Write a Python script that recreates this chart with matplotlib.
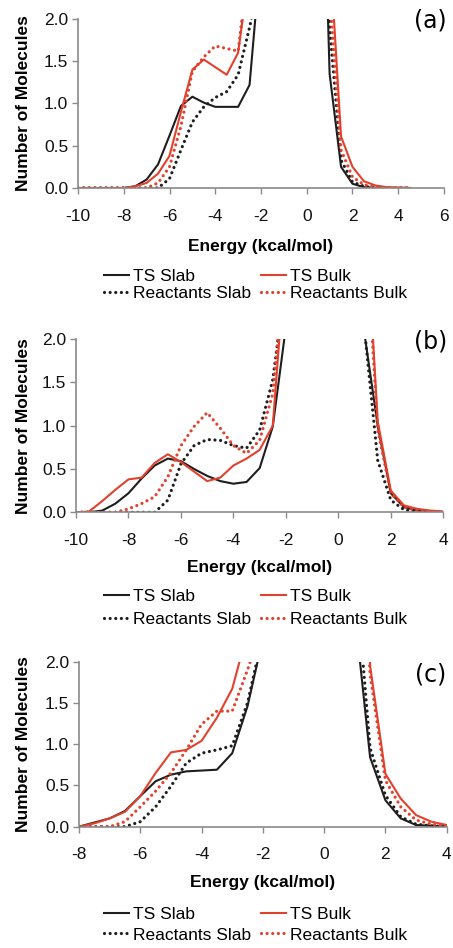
import numpy as np
import matplotlib
matplotlib.use("Agg")
import matplotlib.pyplot as plt

nan = np.nan

# energies (kcal/mol); nan separates the reactant-side and product-side branches
A_ENERGY = [-10, -9.5, -9, -8.5, -8, -7.5, -7, -6.5, -6, -5.5, -5, -4.5, -4, -3.5, -3, -2.5, -2,
            nan, 0.5, 1, 1.5, 2, 2.5, 3, 3.5, 4, 4.5]
A_TS_SLAB = [0, 0, 0, 0, 0, 0.02, 0.10, 0.28, 0.62, 0.97, 1.08, 1.01, 0.96, 0.96, 0.96, 1.22, 2.78,
             nan, 5.99, 1.35, 0.25, 0.05, 0.01, 0, 0, 0, 0]
A_TS_BULK = [0, 0, 0, 0, 0, 0.02, 0.06, 0.17, 0.38, 0.90, 1.40, 1.52, 1.43, 1.34, 1.60, 2.60, 4.0,
             nan, 6.0, 2.85, 0.61, 0.25, 0.08, 0.03, 0.01, 0.005, 0]
A_REACT_SLAB = [0, 0, 0, 0, 0, 0, 0, 0, 0.11, 0.45, 0.78, 0.96, 1.07, 1.14, 1.34, 1.90, 2.53,
                nan, 6.9, 1.9, 0.33, 0.07, 0.02, 0, 0, 0, 0]
A_REACT_BULK = [0, 0, 0, 0, 0, 0, 0, 0.06, 0.25, 0.73, 1.38, 1.55, 1.68, 1.65, 1.62, 2.74, 4.0,
                nan, 5.0, 2.3, 0.45, 0.13, 0.04, 0.01, 0, 0, 0]

B_ENERGY = [-10, -9.5, -9, -8.5, -8, -7.5, -7, -6.5, -6, -5.5, -5, -4.5, -4, -3.5, -3, -2.5, -2,
            nan, 0.5, 1, 1.5, 2, 2.5, 3, 3.5, 4]
B_TS_SLAB = [0, 0, 0.02, 0.10, 0.22, 0.39, 0.54, 0.62, 0.59, 0.50, 0.42, 0.36, 0.33, 0.35, 0.51, 0.99, 2.14,
             nan, 5.0, 2.05, 1.0, 0.22, 0.06, 0.02, 0.01, 0]
B_TS_BULK = [0, 0.01, 0.13, 0.26, 0.38, 0.40, 0.57, 0.67, 0.58, 0.47, 0.36, 0.40, 0.54, 0.62, 0.72, 1.0, 3.0,
             nan, 8.0, 3.69, 1.05, 0.25, 0.08, 0.04, 0.02, 0.01]
B_REACT_SLAB = [0, 0, 0, 0, 0, 0, 0, 0.14, 0.56, 0.77, 0.84, 0.83, 0.77, 0.74, 0.95, 1.53, 2.7,
                nan, 5.0, 2.1, 0.6, 0.14, 0.03, 0, 0, 0]
B_REACT_BULK = [0, 0, 0, 0, 0.04, 0.10, 0.18, 0.41, 0.77, 0.99, 1.15, 0.97, 0.77, 0.68, 0.83, 1.37, 2.95,
                nan, 8.0, 3.5, 0.95, 0.22, 0.06, 0.02, 0.01, 0]

C_ENERGY = [-8, -7.5, -7, -6.5, -6, -5.5, -5, -4.5, -4, -3.5, -3, -2.5, -2,
            nan, 0.5, 1, 1.5, 2, 2.5, 3, 3.5, 4]
C_TS_SLAB = [0, 0.05, 0.10, 0.19, 0.37, 0.55, 0.63, 0.67, 0.68, 0.69, 0.89, 1.46, 2.28,
             nan, 6.0, 2.6, 0.84, 0.32, 0.10, 0.02, 0.01, 0]
C_TS_BULK = [0, 0.04, 0.10, 0.18, 0.37, 0.65, 0.90, 0.93, 1.04, 1.32, 1.67, 2.36, 4.0,
             nan, 8.0, 6.0, 1.95, 0.64, 0.34, 0.14, 0.06, 0.02]
C_REACT_SLAB = [0, 0, 0, 0, 0.06, 0.24, 0.49, 0.77, 0.89, 0.93, 0.98, 1.50, 2.33,
                nan, 8.0, 3.2, 0.95, 0.38, 0.12, 0.03, 0.01, 0]
C_REACT_BULK = [0, 0, 0, 0.06, 0.24, 0.43, 0.65, 0.93, 1.24, 1.40, 1.40, 1.90, 2.46,
                nan, 8.0, 5.0, 1.85, 0.56, 0.24, 0.08, 0.03, 0.01]

SERIES_LABELS = ["TS Slab", "Reactants Slab", "TS Bulk", "Reactants Bulk"]
Y_TICKS = [0.0, 0.5, 1.0, 1.5, 2.0]

BLACK = "#1e1e1e"
RED = "#e2412d"
GRAY = "#8a8a8a"
DOT = (0, (0.01, 1.75))

plt.rcParams["font.family"] = ["Liberation Sans", "DejaVu Sans"]
plt.rcParams["axes.unicode_minus"] = False

fig = plt.figure(figsize=(4.53, 9.48), dpi=100)


def draw_panel(rect, energy, ts_slab, react_slab, ts_bulk, react_bulk, xlim, tag,
               tag_pos, xlabel_y, ylabel_x, legend_top, legend_spacing):
    ax = fig.add_axes(rect)
    ax.plot(energy, ts_slab, color=BLACK, lw=1.5, label=SERIES_LABELS[0])
    ax.plot(energy, react_slab, color=BLACK, lw=2.3, ls=DOT, dash_capstyle="round",
            label=SERIES_LABELS[1])
    ax.plot(energy, ts_bulk, color=RED, lw=1.5, label=SERIES_LABELS[2])
    ax.plot(energy, react_bulk, color=RED, lw=2.3, ls=DOT, dash_capstyle="round",
            label=SERIES_LABELS[3])

    ax.set_xlim(*xlim)
    ax.set_ylim(0, 2.0)
    ax.set_xticks(np.arange(xlim[0], xlim[1] + 1, 2))
    ax.set_yticks(Y_TICKS)
    ax.yaxis.set_major_formatter(matplotlib.ticker.FormatStrFormatter("%.1f"))
    for side in ("top", "right"):
        ax.spines[side].set_visible(False)
    for side in ("left", "bottom"):
        ax.spines[side].set_color(GRAY)
        ax.spines[side].set_linewidth(1.2)
    ax.tick_params(axis="both", direction="out", length=4, width=1, color=GRAY,
                   labelsize=12.5, labelcolor="#111111")
    ax.tick_params(axis="x", pad=11)
    ax.tick_params(axis="y", pad=3)

    ax.set_xlabel("Energy (kcal/mol)", fontsize=12.5, fontweight="bold")
    ax.xaxis.label.set_va("center")
    ax.xaxis.set_label_coords(0.5, xlabel_y)
    ax.set_ylabel("Number of Molecules", fontsize=12.5, fontweight="bold")
    ax.yaxis.label.set_va("center")
    ax.yaxis.set_label_coords(ylabel_x, 0.5)

    ax.text(tag_pos[0], tag_pos[1], tag, transform=ax.transAxes, ha="center", va="center",
            fontsize=17, family="DejaVu Sans")

    ax.legend(loc="upper left", bbox_to_anchor=(104 / 453, legend_top),
              bbox_transform=fig.transFigure, ncol=2, frameon=False, fontsize=12.5,
              handlelength=1.45, handletextpad=0.2, columnspacing=0.6,
              labelspacing=legend_spacing, borderpad=0, borderaxespad=0)
    return ax


draw_panel([0.1722, 0.8017, 0.8079, 0.1783], A_ENERGY, A_TS_SLAB, A_REACT_SLAB,
           A_TS_BULK, A_REACT_BULK, (-10, 6), "(a)", (0.962, 0.988),
           -0.349, -0.148, 0.7162, 0.1)
draw_panel([0.1678, 0.4596, 0.8108, 0.1828], B_ENERGY, B_TS_SLAB, B_REACT_SLAB,
           B_TS_BULK, B_REACT_BULK, (-10, 4), "(b)", (0.965, 0.988),
           -0.316, -0.142, 0.3787, 0.45)
draw_panel([0.1744, 0.1280, 0.8117, 0.1741], C_ENERGY, C_TS_SLAB, C_REACT_SLAB,
           C_TS_BULK, C_REACT_BULK, (-8, 4), "(c)", (0.955, 0.919),
           -0.341, -0.150, 0.0432, 0.3)

fig.savefig("out.png", dpi=100)
